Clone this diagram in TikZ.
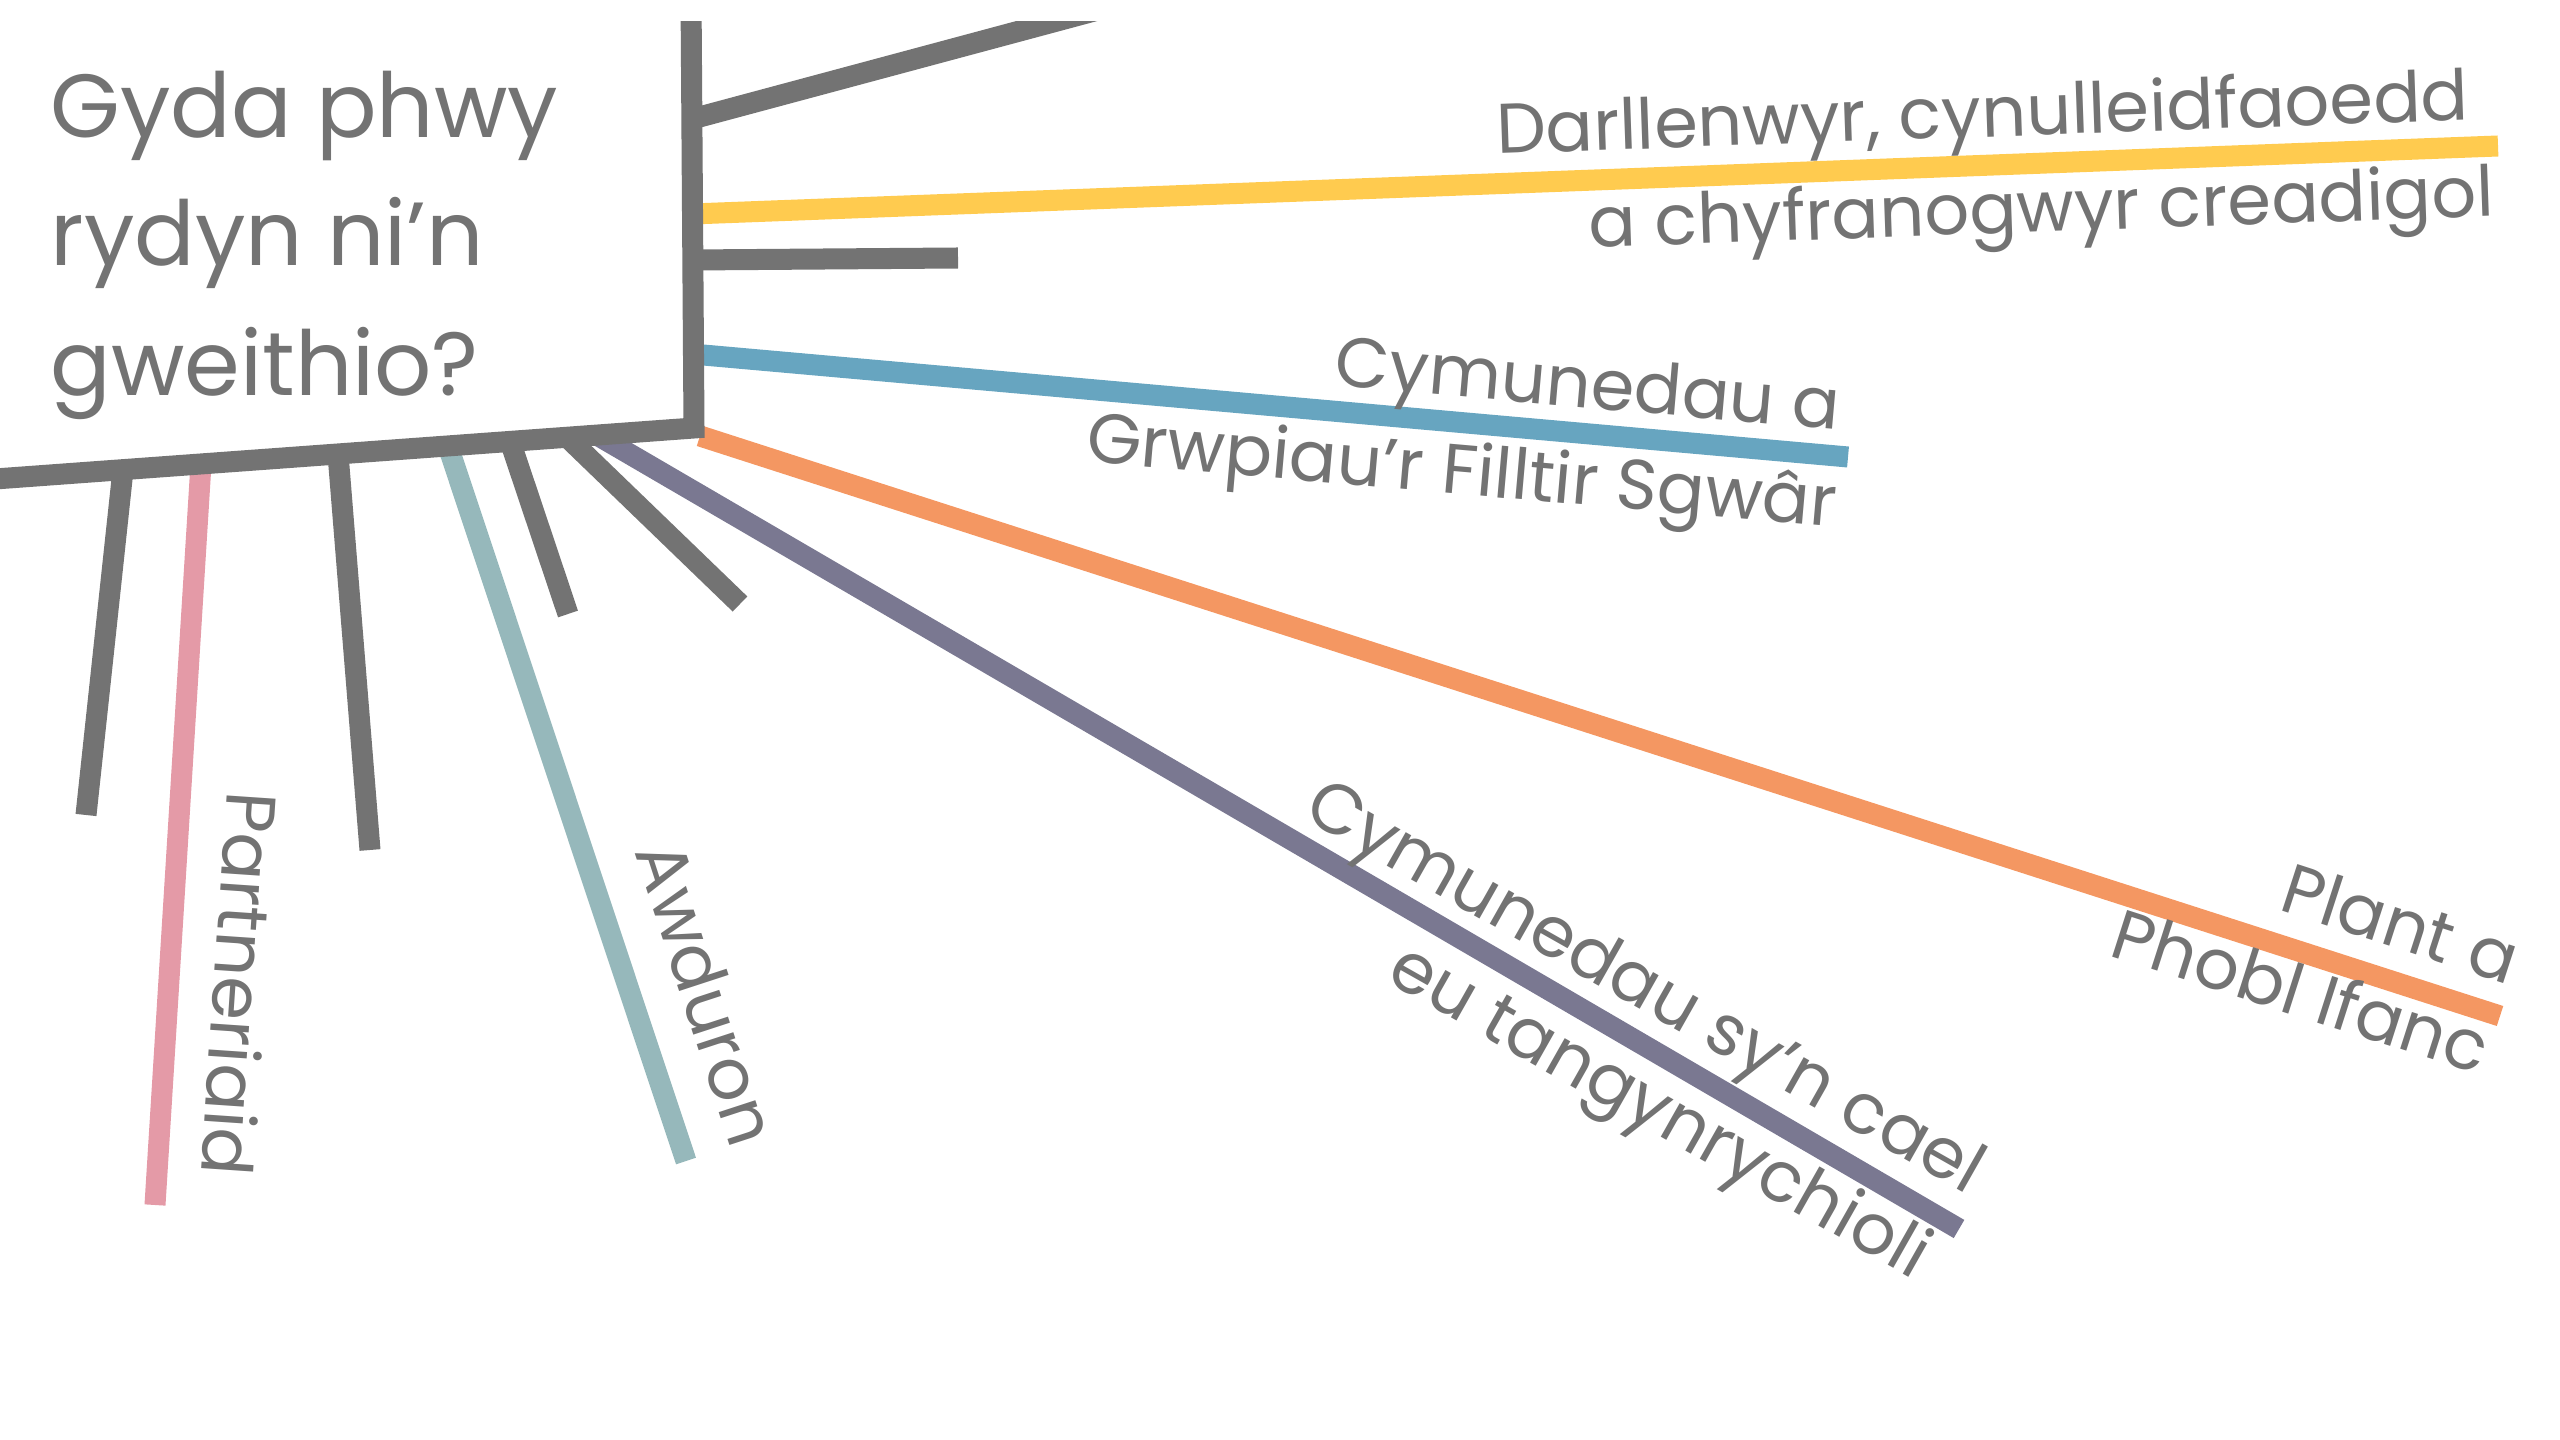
\documentclass[tikz,border=0pt]{standalone}
\usepackage{fontspec}
\setmainfont{Poppins}
\definecolor{spgray}{HTML}{737373}
\definecolor{txtgray}{HTML}{737373}
\definecolor{spyellow}{HTML}{FFCB4F}
\definecolor{spblue}{HTML}{67A5C0}
\definecolor{sporange}{HTML}{F49762}
\definecolor{sppurple}{HTML}{7A7891}
\definecolor{sppink}{HTML}{E49AA7}
\definecolor{spteal}{HTML}{96B8BB}
\begin{document}
\begin{tikzpicture}[x=0.01cm,y=-0.01cm,
  spoke/.style={line width=0.21cm, line cap=butt},
  lbl/.style={font=\fontsize{20}{24}\selectfont, text=txtgray, inner sep=0pt},
  ttl/.style={font=\fontsize{25.5}{32}\selectfont, text=txtgray, inner sep=0pt, anchor=base west}]
\useasboundingbox (0,0) rectangle (2560,1440);
% box corners
\coordinate (bxTop) at (691,-5);
\coordinate (bxCorner) at (694,428);
\coordinate (bxLeft) at (-5,479);
% right-edge spokes
\coordinate (r1a) at (692,119); \coordinate (r1b) at (1150,-4);
\coordinate (ya) at (692,214);  \coordinate (yb) at (2498,146);
\coordinate (r3a) at (692,260); \coordinate (r3b) at (958,258);
\coordinate (ba) at (692,354);  \coordinate (bb) at (1848,457);
\coordinate (oa) at (700,436);  \coordinate (ob) at (2500,1016);
\coordinate (pa) at (597,435);  \coordinate (pb) at (1959,1229);
% bottom-edge spokes
\coordinate (g6a) at (567,437); \coordinate (g6b) at (740,604);
\coordinate (g5a) at (510,441); \coordinate (g5b) at (568,614);
\coordinate (ta) at (448,446);  \coordinate (tb) at (686,1161);
\coordinate (g3a) at (338,454); \coordinate (g3b) at (370,850);
\coordinate (pka) at (201,464); \coordinate (pkb) at (155,1205);
\coordinate (g1a) at (123,470); \coordinate (g1b) at (86,815);
\begin{scope}
\clip (0,22) rectangle (2560,1440);
\draw[spoke, spgray] (r1a) -- (r1b);
\draw[spoke, spyellow] (ya) -- (yb);
\draw[spoke, spgray] (r3a) -- (r3b);
\draw[spoke, spblue] (ba) -- (bb);
\draw[spoke, sporange] (oa) -- (ob);
\draw[spoke, sppurple] (pa) -- (pb);
\draw[spoke, spgray] (g6a) -- (g6b);
\draw[spoke, spgray] (g5a) -- (g5b);
\draw[spoke, spteal] (ta) -- (tb);
\draw[spoke, spgray] (g3a) -- (g3b);
\draw[spoke, sppink] (pka) -- (pkb);
\draw[spoke, spgray] (g1a) -- (g1b);
\draw[spoke, spgray, line join=miter] (bxTop) -- (bxCorner) -- (bxLeft);
\end{scope}
% title
\node[ttl] (t1) at (50,138) {Gyda phwy};
\node[ttl] (t2) at (50,266) {rydyn ni’n};
\node[ttl] (t3) at (50,396) {gweithio?};
% labels
\node[lbl, rotate=2, anchor=base east] (y1) at (2470,120) {Darllenwyr, cynulleidfaoedd};
\node[lbl, rotate=2, anchor=base east] (y2) at (2495,216) {a chyfranogwyr creadigol};
\node[lbl, rotate=-5, anchor=base east] (b1) at (1839,430) {Cymunedau a};
\node[lbl, rotate=-5, anchor=base east] (b2) at (1835,527) {Grwpiau’r Filltir Sgwâr};
\node[lbl, rotate=-18, anchor=base east] (o1) at (2509,985) {Plant a};
\node[lbl, rotate=-17.8, anchor=base east] (o2) at (2480,1075) {Phobl Ifanc};
\node[lbl, rotate=-29.5, anchor=base east] (p1) at (1968,1195) {Cymunedau sy’n cael};
\node[lbl, rotate=-29.5, anchor=base east] (p2) at (1914,1280) {eu tangynrychioli};
\node[lbl, rotate=-71.9, anchor=base east] (aw) at (732,1151) {Awduron};
\node[lbl, rotate=-93.9, anchor=base east] (pt) at (201,1175) {Partneriaid};
\end{tikzpicture}
\end{document}
